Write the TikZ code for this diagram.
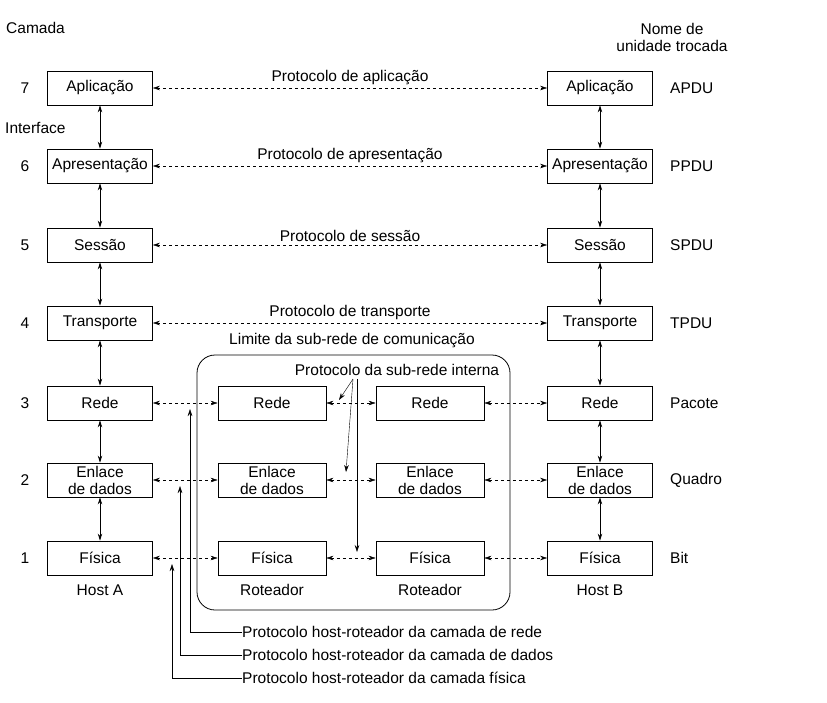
\documentclass[tikz,border=0pt]{standalone}
\usepackage{fontspec}
\setmainfont{Liberation Sans}
\usetikzlibrary{arrows.meta}
\begin{document}
\begin{tikzpicture}[x=1pt,y=-1pt,font=\fontsize{15.5}{17}\selectfont,
 box/.style={draw,thick,minimum width=105pt,minimum height=34pt,align=center,inner sep=1pt},
 dar/.style={dashed,{Stealth[length=7pt,width=4.5pt]}-{Stealth[length=7pt,width=4.5pt]}},
 var/.style={thick,{Stealth[length=7pt,width=4.5pt]}-{Stealth[length=7pt,width=4.5pt]}},
 sar/.style={-{Stealth[length=7pt,width=4.5pt]}},
 lab/.style={inner sep=0pt}]
\useasboundingbox (0,0) rectangle (827,702);
\draw[thick,rounded corners=18pt] (197,355) rectangle (510,610);
% columns
\foreach \n/\t/\y in {7/Aplicação/88,6/Apresentação/166,5/Sessão/245,4/Transporte/323,3/Rede/403,2/{Enlace\\de dados}/480,1/Física/558}{
 \node[box] (L\n) at (100,\y) {\t};
 \node[box] (R\n) at (600,\y) {\t};
 \node[lab] (N\n) at (25,\y) {\n};
}
\foreach \n/\t/\y in {3/Rede/403,2/{Enlace\\de dados}/480,1/Física/558}{
 \node[box,minimum width=108pt] (A\n) at (272,\y) {\t};
 \node[box,minimum width=108pt] (B\n) at (430,\y) {\t};
}
\foreach \a/\b in {7/6,6/5,5/4,4/3,3/2,2/1}{
 \draw[var] (L\a) -- (L\b); \draw[var] (R\a) -- (R\b);}
\foreach \n/\t in {7/{Protocolo de aplicação},6/{Protocolo de apresentação},5/{Protocolo de sessão},4/{Protocolo de transporte}}{
 \draw[dar] (L\n) -- node[above=3pt,lab]{\t} (R\n);}
\foreach \n in {3,2,1}{
 \draw[dar] (L\n) -- (A\n); \draw[dar] (A\n) -- (B\n); \draw[dar] (B\n) -- (R\n);}
% units
\node[lab,anchor=west] (u7) at (670,88) {APDU};
\node[lab,anchor=west] (u6) at (670,166) {PPDU};
\node[lab,anchor=west] (u5) at (670,245) {SPDU};
\node[lab,anchor=west] (u4) at (670,323) {TPDU};
\node[lab,anchor=west] (u3) at (670,403) {Pacote};
\node[lab,anchor=west] (u2) at (670,480) {Quadro};
\node[lab,anchor=west] (u1) at (670,558) {Bit};
\node[lab,anchor=west] (cam) at (6,28) {Camada};
\node[lab,align=center] (nome) at (672,37) {Nome de\\unidade trocada};
\node[lab,anchor=west] (intf) at (5,128) {Interface};
\node[lab] (ha) at (100,590) {Host A};
\node[lab] (hb) at (600,590) {Host B};
\node[lab] (ra) at (272,590) {Roteador};
\node[lab] (rb) at (430,590) {Roteador};
\node[lab] (lim) at (352,341) {Limite da sub-rede de comunicação};
\node[lab] (sub) at (397,370) {Protocolo da sub-rede interna};
\coordinate (s0) at (353,379); \coordinate (s1) at (357,379);
\draw[sar] (s0) -- (339,400);
\draw[sar] (s0) -- (346,472);
\draw[sar] (s1) -- (357,552);
% host-router
\node[lab,anchor=west] (p3) at (242,632) {Protocolo host-roteador da camada de rede};
\node[lab,anchor=west] (p2) at (242,655) {Protocolo host-roteador da camada de dados};
\node[lab,anchor=west] (p1) at (242,678) {Protocolo host-roteador da camada física};
\draw[sar] (p3.west) -- ++(-52,0) -- (190,409);
\draw[sar] (p2.west) -- ++(-62,0) -- (180,486);
\draw[sar] (p1.west) -- ++(-70,0) -- (172,564);
\end{tikzpicture}
\end{document}
